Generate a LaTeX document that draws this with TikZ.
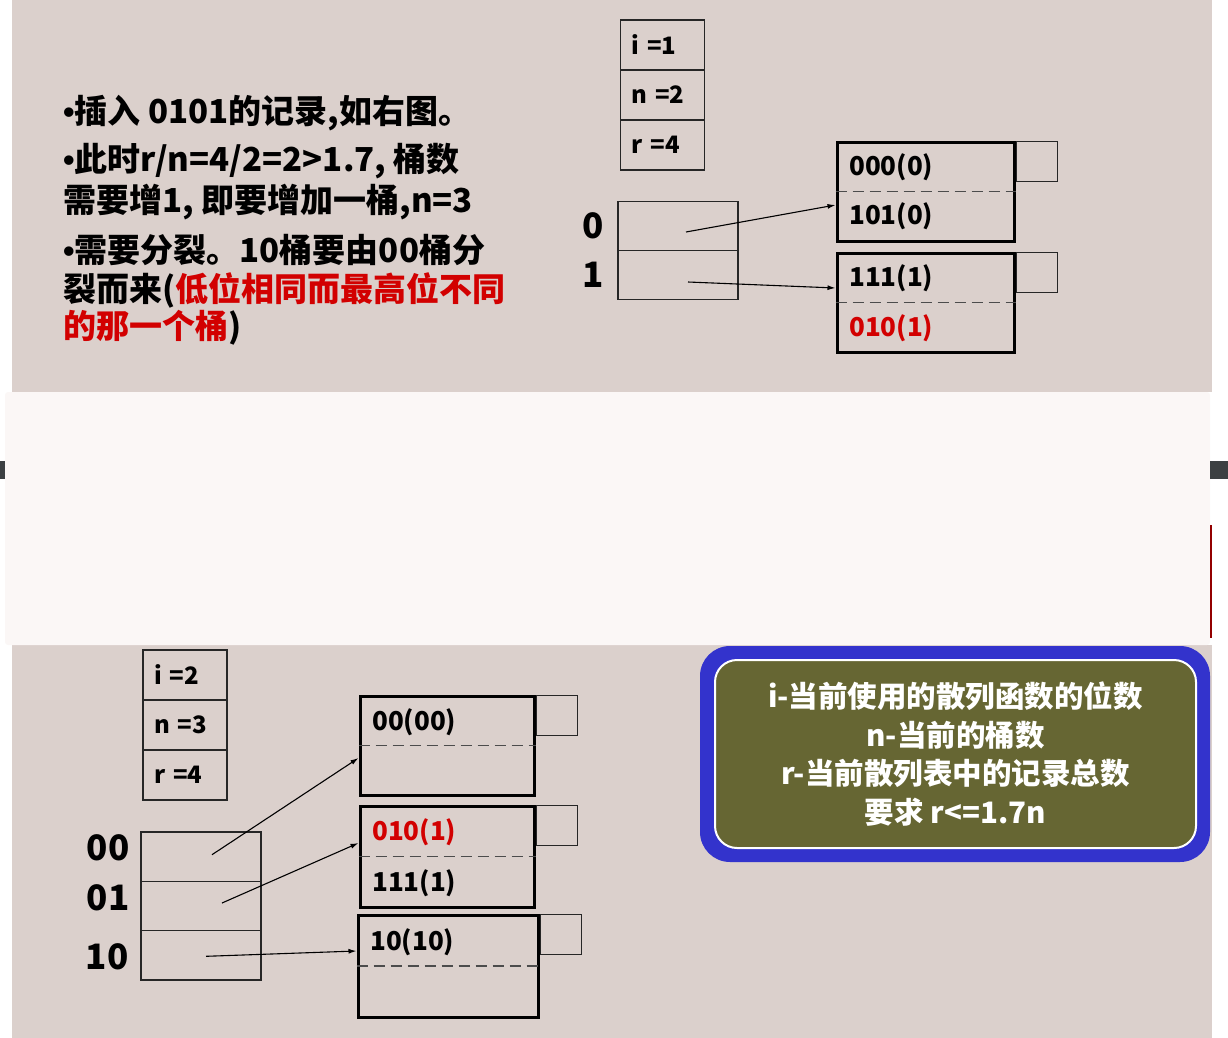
\documentclass[tikz,border=0pt]{standalone}
\usepackage{fontspec}
\setmainfont{Noto Sans CJK SC}
\newfontfamily\latinfont{Liberation Sans}
\usetikzlibrary{arrows.meta, positioning}
\usepackage{xcolor}
\definecolor{slidebg}{RGB}{219,208,204}
\definecolor{bandbg}{RGB}{251,247,246}
\definecolor{recred}{RGB}{210,0,0}
\definecolor{noteblue}{RGB}{51,51,204}
\definecolor{noteolive}{RGB}{102,102,51}
\definecolor{tabgray}{RGB}{60,64,66}
\newcommand\dotmark{{\latinfont\bfseries •}}

\begin{document}
\begin{tikzpicture}[x=1pt, y=-1pt, >={Latex[length=8pt, width=5pt]}, font=\bfseries]
			\tikzstyle{var} = [draw=black!85, line width=1.2pt, text width=62pt, inner xsep=11pt, inner ysep=0pt, minimum height=50pt, align=left, font=\bfseries\fontsize{24}{24}\selectfont]
			\tikzstyle{slot} = [draw=black!85, line width=1.2pt, minimum width=120pt, minimum height=49.5pt, inner sep=0pt]
			\tikzstyle{bucket} = [draw=black, line width=3pt, minimum width=177pt, minimum height=99pt, inner sep=0pt]
			\tikzstyle{ovf} = [draw=black!85, line width=1.2pt, minimum width=41pt, minimum height=40pt, inner sep=0pt, anchor=north west]
			\tikzstyle{rec} = [anchor=west, inner sep=0pt, font=\bfseries\fontsize{26}{26}\selectfont]
			\tikzstyle{idx} = [inner sep=0pt, font=\bfseries\fontsize{35}{35}\selectfont]
			\tikzstyle{para} = [anchor=west, inner sep=0pt, font=\bfseries\fontsize{33}{33}\selectfont]
			\tikzstyle{split} = [dashed, dash pattern=on 11pt off 6pt, line width=1.8pt, black!70]

			\useasboundingbox (0,0) rectangle (1228,1038);
			% slide backgrounds and the band between them
			\fill[slidebg] (12,0) rectangle (1212,392);
			\fill[slidebg] (12,645) rectangle (1212,1038);
			\fill[bandbg, rounded corners=3pt] (5,392) rectangle (1210,645);
			\fill[tabgray] (0,461) rectangle (5,479);
			\fill[tabgray] (1210,461) rectangle (1228,479);
			\draw[recred!70!black, line width=1.5pt] (1211,525) -- (1211,638);

			% first slide: text
			\node[para] at (63,113) (t1) {\dotmark 插入 0101的记录,如右图。};
			\node[para] at (63,161) (t2) {\dotmark 此时r/n=4/2=2>1.7, 桶数};
			\node[para] at (63,202) (t3) {需要增1, 即要增加一桶,n=3};
			\node[para] at (63,250) (t4) {\dotmark 需要分裂。10桶要由00桶分};
			\node[para] at (63,290) (t5) {裂而来(\textcolor{recred}{低位相同而最高位不同}};
			\node[para] at (63,328) (t6) {\textcolor{recred}{的那一个桶})};

			% first slide: table
			\node[var] at (662.5,45)  (i1) {i =1};
			\node[var] at (662.5,95)  (n1) {n =2};
			\node[var] at (662.5,145) (r1) {r =4};

			\node[slot] at (678,226) (s0) {};
			\node[slot] at (678,275) (s1) {};
			\node[idx]  at (593,226) (l0) {0};
			\node[idx]  at (593,275) (l1) {1};

			\node[bucket] at (925.5,191.5) (bk0) {};
			\node[bucket] at (925.5,302.5) (bk1) {};
			\node[ovf] at (bk0.north east) (o0) {};
			\node[ovf] at (bk1.north east) (o1) {};
			\draw[split] (bk0.west) -- (bk0.east);
			\draw[split] (bk1.west) -- (bk1.east);
			\node[rec] at (849,167) (r000) {000(0)};
			\node[rec] at (849,216) (r101) {101(0)};
			\node[rec] at (849,278) (r111) {111(1)};
			\node[rec, text=recred] at (849,328) (r010) {010(1)};

			\path[->, line width=1.1pt]
			([shift={(8,6)}]s0.center)	edge	([yshift=-13.5pt]bk0.west)
			([shift={(10,7)}]s1.center)	edge	([yshift=14.5pt]bk1.west);

			% second slide: table
			\node[var] at (185,675) (i2) {i =2};
			\node[var] at (185,725) (n2) {n =3};
			\node[var] at (185,775) (r2) {r =4};

			\node[slot] at (201,856.7) (sa) {};
			\node[slot] at (201,906)   (sb) {};
			\node[slot] at (201,955.3) (sc) {};
			\node[idx]  at (108,848) (la) {00};
			\node[idx]  at (108,898) (lb) {01};
			\node[idx]  at (107,957) (lc) {10};

			\node[bucket, minimum width=174pt] at (447,745.5) (bka) {};
			\node[bucket, minimum width=174pt, minimum height=101pt] at (447,856.5) (bkb) {};
			\node[bucket, minimum width=180pt, minimum height=102pt] at (448,966) (bkc) {};
			\node[ovf] at (bka.north east) (oa) {};
			\node[ovf] at (bkb.north east) (ob) {};
			\node[ovf] at (bkc.north east) (oc) {};
			\draw[split] (bka.west) -- (bka.east);
			\draw[split] (bkb.west) -- (bkb.east);
			\draw[split] (bkc.west) -- (bkc.east);
			\node[rec] at (372,722) (q00) {00(00)};
			\node[rec, text=recred] at (372,832) (q010) {010(1)};
			\node[rec] at (372,883) (q111) {111(1)};
			\node[rec] at (370,942) (q10) {10(10)};

			\path[->, line width=1.1pt]
			([shift={(11,-2)}]sa.center)	edge	([yshift=-12.5pt]bka.west)
			([shift={(21,-3)}]sb.center)	edge	([yshift=13.5pt]bkb.west)
			([shift={(5,1)}]sc.center)		edge	([yshift=15pt]bkc.west);

			% legend
			\node[fill=noteblue, rounded corners=30pt, minimum width=510pt, minimum height=216pt] at (955,754) (legout) {};
			\node[fill=noteolive, draw=white, line width=2pt, rounded corners=22pt, minimum width=481pt, minimum height=188pt,
				text=white, align=center, font=\bfseries\fontsize{29.5}{38.5}\selectfont] at (955.5,754) (legend)
				{i-当前使用的散列函数的位数\\n-当前的桶数\\r-当前散列表中的记录总数\\要求 r<=1.7n};
		\end{tikzpicture}
\end{document}
